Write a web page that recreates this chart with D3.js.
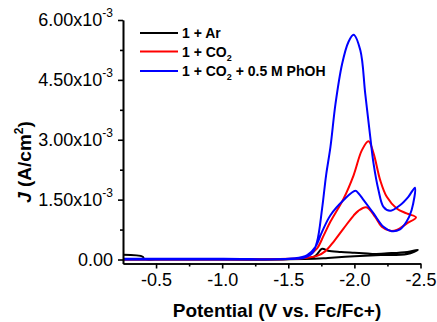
<html>
<head>
<meta charset="utf-8">
<script src="https://cdn.jsdelivr.net/npm/d3@7"></script>
<style>
    body{ margin:0; background:#fff; }
    svg{ font-family: "Liberation Sans", Arial, sans-serif; }
    .axis path, .axis line{ stroke:#000; stroke-width:1.6; }
    .axis text{ font-size:18px; fill:#000; font-family:"Liberation Sans", Arial, sans-serif; }
</style>
</head>
<body>
<svg id="chart" width="437" height="322"></svg>
<script>
    // potential in V vs Fc/Fc+, current density in 1e-3 A/cm2
    var arPotential  = [-0.25,-0.40,-0.41,-0.50,-1.00,-1.55,-1.70,-1.756,-1.80,-1.90,-2.00,-2.10,-2.15,-2.25,-2.40,-2.48,
                        -2.40,-2.20,-2.00,-1.80,-1.70,-1.00,-0.25];
    var arCurrent    = [0.12,0.07,0.01,0.00,0.00,0.01,0.08,0.27,0.22,0.19,0.17,0.15,0.14,0.155,0.19,0.24,
                        0.14,0.11,0.08,0.04,0.02,0.00,0.00];

    var co2Potential = [-0.25,-1.00,-1.50,-1.60,-1.656,-1.718,-1.769,-1.819,-1.919,-1.994,-2.057,-2.107,-2.145,-2.195,-2.245,-2.32,-2.395,-2.466,
                        -2.395,-2.32,-2.27,-2.207,-2.157,-2.09,-2.03,-1.994,-1.919,-1.844,-1.781,-1.718,-1.60,-1.00,-0.25];
    var co2Current   = [0.00,0.00,0.01,0.03,0.11,0.28,0.61,0.95,1.53,2.11,2.74,2.96,2.66,1.99,1.57,1.28,1.155,1.055,
                        0.90,0.74,0.72,0.82,1.07,1.31,1.22,1.10,0.78,0.45,0.21,0.09,0.03,0.01,0.01];

    var phohPotential = [-0.25,-1.00,-1.50,-1.618,-1.681,-1.718,-1.756,-1.786,-1.819,-1.857,-1.907,-1.955,-1.994,-2.045,-2.082,-2.12,-2.145,-2.182,-2.22,-2.27,-2.345,-2.408,-2.458,
                         -2.433,-2.395,-2.345,-2.282,-2.22,-2.145,-2.07,-2.032,-2.007,-1.919,-1.819,-1.756,-1.706,-1.643,-1.55,-1.00,-0.25];
    var phohCurrent   = [0.00,0.00,0.01,0.045,0.155,0.45,1.28,2.11,2.82,3.90,4.90,5.45,5.63,5.24,4.155,3.07,2.40,1.74,1.32,1.22,1.36,1.57,1.80,
                         1.24,0.95,0.755,0.71,0.82,1.155,1.49,1.655,1.72,1.49,1.11,0.70,0.32,0.11,0.03,0.02,0.02];

    var seriesNames  = ["1 + Ar", "1 + CO2", "1 + CO2 + 0.5 M PhOH"];
    var seriesColors = ["#000000", "#ff0000", "#0000ff"];

    var xMajor = [-0.5,-1.0,-1.5,-2.0,-2.5];
    var xMinor = [-0.75,-1.25,-1.75,-2.25];
    var yMajor = [0, 0.0015, 0.003, 0.0045, 0.006];
    var yMinor = [0.00075, 0.00225, 0.00375, 0.00525];

    var svg = d3.select("#chart");
    var x = d3.scaleLinear().domain([-0.25,-2.5]).range([123,420.5]);
    var y = d3.scaleLinear().domain([-0.0001,0.006]).range([263.5,20]);

    function toPoints(p, c){
        return p.map(function(v,i){ return [v, c[i]*1e-3]; });
    }
    var series = [toPoints(arPotential, arCurrent), toPoints(co2Potential, co2Current), toPoints(phohPotential, phohCurrent)];

    var line = d3.line()
        .x(function(d){ return x(d[0]); })
        .y(function(d){ return y(d[1]); })
        .curve(d3.curveCatmullRom.alpha(0.5));

    svg.selectAll("path.cv").data(series).enter().append("path")
        .attr("class","cv")
        .attr("d", line)
        .attr("fill","none")
        .attr("stroke", function(d,i){ return seriesColors[i]; })
        .attr("stroke-width",2)
        .attr("stroke-linejoin","round");

    // axes
    svg.append("g").attr("class","axis").attr("transform","translate(0,263.5)")
        .call(d3.axisBottom(x).tickValues(xMajor).tickSize(5).tickSizeOuter(0).tickPadding(5)
            .tickFormat(function(d){ return d.toFixed(1); }));
    svg.append("g").attr("class","axis").attr("transform","translate(0,263.5)")
        .call(d3.axisBottom(x).tickValues(xMinor).tickSize(3).tickSizeOuter(0).tickFormat(""));

    var yAxis = svg.append("g").attr("class","axis").attr("transform","translate(123,0)")
        .call(d3.axisLeft(y).tickValues(yMajor).tickSize(5).tickSizeOuter(0).tickPadding(5));
    svg.append("g").attr("class","axis").attr("transform","translate(123,0)")
        .call(d3.axisLeft(y).tickValues(yMinor).tickSize(3).tickSizeOuter(0).tickFormat(""));

    yAxis.selectAll(".tick text").each(function(d){
        var t = d3.select(this);
        if (d === 0){
            t.text("0.00");
        } else {
            t.text((d*1000).toFixed(2) + "x10");
            t.append("tspan").attr("dy","-9").attr("font-size","12px").text("-3");
        }
    });

    // axis titles
    svg.append("text")
        .attr("x",277).attr("y",317)
        .attr("text-anchor","middle")
        .attr("font-size","19px").attr("font-weight","bold")
        .text("Potential (V vs. Fc/Fc+)");

    var yTitle = svg.append("text")
        .attr("transform","translate(31,162) rotate(-90)")
        .attr("text-anchor","middle")
        .attr("font-size","19px").attr("font-weight","bold");
    yTitle.append("tspan").attr("font-style","italic").text("J");
    yTitle.append("tspan").text(" (A/cm");
    yTitle.append("tspan").attr("dy","-8").attr("font-size","12px").text("2");
    yTitle.append("tspan").attr("dy","8").text(")");

    // legend
    var legendY = [33, 51.5, 71];
    var legend = svg.selectAll("g.legend").data(seriesNames).enter().append("g")
        .attr("class","legend")
        .attr("transform", function(d,i){ return "translate(140," + legendY[i] + ")"; });
    legend.append("line")
        .attr("x1",0).attr("x2",38).attr("y1",0).attr("y2",0)
        .attr("stroke", function(d,i){ return seriesColors[i]; })
        .attr("stroke-width",2);
    legend.append("text")
        .attr("x",42).attr("y",5)
        .attr("font-size","14px").attr("font-weight","bold")
        .each(function(d){
            var t = d3.select(this);
            var parts = d.split("CO2");
            t.append("tspan").text(parts[0]);
            if (parts.length > 1){
                t.append("tspan").text("CO");
                t.append("tspan").attr("dy","4").attr("font-size","9px").text("2");
                t.append("tspan").attr("dy","-4").text(parts[1]);
            }
        });
</script>
</body>
</html>
